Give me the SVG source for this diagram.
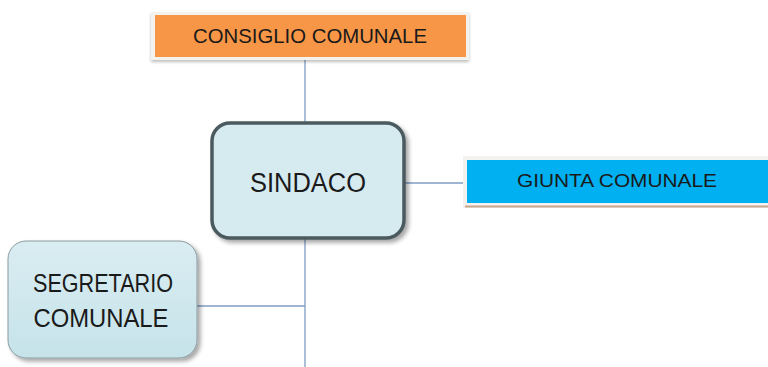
<svg xmlns="http://www.w3.org/2000/svg" width="768" height="367" viewBox="0 0 768 367">
<style>
.t{font-family:"Liberation Sans",Arial,sans-serif;fill:#1a1a1a;text-anchor:middle}
.c{stroke:#7f9cc4;stroke-width:1.3;fill:none}
</style>
<defs>
<filter id="sh" x="-20%" y="-20%" width="140%" height="150%">
<feDropShadow dx="3" dy="3" stdDeviation="2" flood-color="#000" flood-opacity="0.35"/>
</filter>
<filter id="sh2" x="-10%" y="-30%" width="120%" height="170%">
<feDropShadow dx="0" dy="2" stdDeviation="1.5" flood-color="#000" flood-opacity="0.25"/>
</filter>
<linearGradient id="g1" x1="0" y1="0" x2="0" y2="1">
<stop offset="0" stop-color="#d9edf2"/><stop offset="1" stop-color="#c6e3ea"/>
</linearGradient>
</defs>
<rect width="768" height="367" fill="#fff"/>
<g id="connectors">
<line class="c" x1="305" y1="57" x2="305" y2="124"/>
<line class="c" x1="404" y1="183" x2="467" y2="183"/>
<line class="c" x1="305" y1="238" x2="305" y2="367"/>
<line class="c" x1="196" y1="306" x2="305" y2="306"/>
</g>
<g id="consiglio">
<rect x="151" y="12" width="318" height="48" fill="#f4f2ef" filter="url(#sh2)"/>
<rect x="155" y="15" width="311" height="42" fill="#f79646"/>
<text class="t" x="310" y="43" font-size="21" textLength="234" lengthAdjust="spacingAndGlyphs">CONSIGLIO COMUNALE</text>
</g>
<g id="sindaco">
<rect x="212" y="123" width="192" height="115" rx="18" fill="#d6ebf0" stroke="#4b5a5e" stroke-width="3.5" filter="url(#sh)"/>
<text class="t" x="308" y="192" font-size="27" textLength="116" lengthAdjust="spacingAndGlyphs">SINDACO</text>
</g>
<g id="giunta">
<rect x="463" y="156" width="305" height="52" fill="#f4f2ef"/>
<line x1="465" y1="206.5" x2="768" y2="206.5" stroke="#c8a48e" stroke-width="2"/>
<rect x="467" y="160" width="301" height="43" fill="#00b0f0"/>
<text class="t" x="617" y="187" font-size="19" textLength="200" lengthAdjust="spacingAndGlyphs">GIUNTA COMUNALE</text>
</g>
<g id="segretario">
<rect x="8" y="241" width="189" height="117" rx="18" fill="url(#g1)" stroke="#8a9a9e" stroke-width="1" filter="url(#sh)"/>
<text class="t" x="103" y="292" font-size="25" textLength="140" lengthAdjust="spacingAndGlyphs">SEGRETARIO</text>
<text class="t" x="101" y="327" font-size="25" textLength="135" lengthAdjust="spacingAndGlyphs">COMUNALE</text>
</g>
</svg>
